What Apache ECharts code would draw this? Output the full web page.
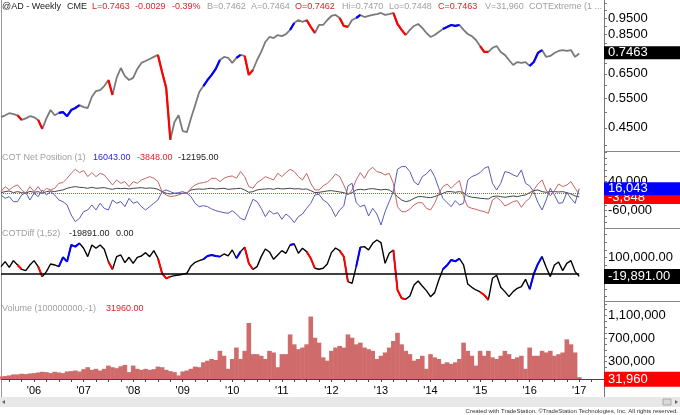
<!DOCTYPE html>
<html><head><meta charset="utf-8">
<script src="https://cdn.jsdelivr.net/npm/echarts@6/dist/echarts.min.js"></script>
<style>html,body{margin:0;padding:0;background:#fff}#c{width:680px;height:415px}</style>
</head><body><div id="c"></div>
<script>
// monthly categories May 2005 .. Jul 2017 (data runs to Jan 2017)
const startYear = 2005, startMonth = 5, nMonths = 147;
const months = [];
for (let i = 0; i < nMonths; i++) { const t = startYear * 12 + startMonth - 1 + i; months.push(Math.floor(t / 12) + '-' + String(t % 12 + 1).padStart(2, '0')); }

const price = [
0.484,0.490,0.497,0.494,0.490,0.475,0.480,0.487,0.484,0.475,
0.447,0.480,0.508,0.490,0.498,0.501,0.487,0.508,0.515,0.525,
0.518,0.515,0.556,0.578,0.582,0.598,0.623,0.563,0.632,0.676,
0.640,0.623,0.632,0.672,0.700,0.709,0.719,0.729,0.739,0.658,
0.590,0.415,0.468,0.490,0.440,0.437,0.480,0.525,0.574,0.598,
0.623,0.645,0.672,0.714,0.729,0.724,0.700,0.724,0.739,0.734,
0.645,0.667,0.714,0.754,0.807,0.835,0.829,0.846,0.840,0.851,
0.876,0.918,0.937,0.925,0.937,0.894,0.858,0.906,0.906,0.937,
0.963,0.970,0.950,0.900,0.894,0.937,0.950,0.970,0.956,0.963,
0.970,0.976,0.983,0.970,0.976,0.983,0.912,0.876,0.846,0.876,
0.900,0.912,0.888,0.858,0.835,0.846,0.864,0.882,0.894,0.906,
0.900,0.906,0.876,0.852,0.840,0.818,0.785,0.754,0.754,0.775,
0.785,0.754,0.739,0.714,0.690,0.704,0.700,0.704,0.686,0.704,
0.749,0.764,0.729,0.734,0.749,0.759,0.764,0.759,0.764,0.729,
0.7463];

const cotBlue = [
-5750,-17250,-11500,-28750,-28750,-5750,2300,-23000,0,-11500,
11500,-5750,5750,-5750,-23000,-28750,-40250,-74750,-97750,-86250,
-63250,-57500,-40250,-57500,-34500,-51750,-57500,-23000,-34500,-28750,
-46000,-17250,-34500,-28750,-46000,-57500,-46000,-34500,-23000,5750,
11500,5750,0,2300,5750,0,-11500,-34500,-46000,-42550,
-46000,-54050,-59800,-63250,-66700,-69000,-59800,-71300,-86250,-92000,
-55200,-20700,-28750,-51750,-80500,-59800,-71300,-66700,-89700,-71300,
-82800,-101200,-80500,-71300,-51750,-34500,-5750,-3450,-23000,-32200,
-51750,-80500,-57500,-43700,25300,34500,-32200,-46000,-40250,-78200,
-51750,-71300,-109250,-63250,-28750,5750,82800,92000,92000,74750,
40250,28750,57500,66700,82800,57500,17250,-17250,-32200,-46000,
-25300,-40250,-34500,46000,57500,63250,71300,86250,92000,34500,
11500,34500,74750,71300,63250,57500,80500,34500,25300,5750,
-32200,-57500,-23000,17250,-5750,-34500,-32200,2300,-17250,-34500,
16043];

const cotRed = [
5750,23000,11500,23000,28750,11500,0,23000,5750,23000,
2300,17250,11500,17250,34500,36800,51750,69000,82800,71300,
78200,57500,71300,57500,69000,63250,46000,28750,46000,34500,
40250,23000,40250,34500,46000,51750,57500,51750,40250,5750,
-5750,-11500,-9200,-5750,0,0,17250,28750,34500,36800,
40250,51750,51750,40250,51750,57500,59800,51750,74750,57500,
23000,17250,36800,46000,57500,51750,46000,69000,57500,71300,
82800,74750,57500,46000,69000,34500,11500,11500,25300,34500,
48300,66700,57500,28750,-5750,11500,46000,71300,51750,78200,
89700,74750,71300,63250,69000,34500,-46000,-63250,-63250,-54050,
-40250,-32200,-32200,-51750,-57500,-34500,0,23000,32200,17250,
32200,43700,-11500,-46000,-51750,-55200,-59800,-63250,-69000,-23000,
-13800,-25300,-43700,-36800,-28750,-25300,-48300,-28750,-17250,11500,
32200,46000,11500,-9200,9200,32200,23000,28750,40250,17250,
-3848];

const cotBlack = [
2300,5750,8050,2300,5750,2300,0,6900,3450,5750,
0,5750,8050,5750,9200,11500,17250,20700,23000,20700,
19550,17250,20700,17250,18400,19550,16100,13800,17250,16100,
17250,14950,17250,18400,19550,17250,18400,17250,13800,5750,
0,-2300,0,-1150,0,1150,11500,13800,14950,13800,
16100,17250,14950,16100,17250,13800,14950,16100,17250,11500,
3450,5750,11500,13800,14950,16100,13800,17250,14950,16100,
17250,14950,16100,13800,14950,9200,2300,3450,5750,8050,
9200,6900,4600,2300,-3450,2300,11500,13800,11500,14950,
16100,13800,11500,13800,11500,2300,-11500,-23000,-28750,-25300,
-17250,-11500,-11500,-13800,-14950,-11500,-5750,0,5750,5750,
3450,5750,2300,-9200,-13800,-14950,-17250,-18400,-19550,-11500,
-9200,-11500,-13800,-11500,-9200,-11500,-8050,-5750,2300,9200,
11500,5750,3450,5750,5750,4600,5750,2300,-2300,-9200,
-12195];

const cotDiff = [
42700,74800,38500,81200,53400,25600,17100,53400,81200,42700,
-21400,10700,59800,53400,42700,102600,74800,181600,171000,192300,
160300,106900,181600,160300,181600,153900,74800,25600,106900,117500,
68400,102600,64100,102600,111100,132500,106900,145300,96200,0,
-32100,-21400,-15000,-10700,-6400,0,47000,70500,81200,89800,
111100,117500,111100,106900,123900,111100,149600,96200,138900,166700,
64100,25600,42700,106900,156000,136800,89800,117500,145300,128200,
181600,188100,128200,160300,138900,96200,32100,25600,32100,59800,
132500,162400,145300,106900,-53400,-64100,42700,166700,171000,149600,
192300,213700,196600,64100,128200,149600,-106900,-160300,-166700,-145300,
-74800,-49200,-81200,-111100,-149600,-123900,-42700,25600,51300,85500,
76900,94000,53400,-68400,-89800,-106900,-119700,-138900,-171000,-32100,
-12800,-89800,-117500,-149600,-117500,-96200,-85500,-38500,-102600,-4300,
59800,106900,38500,-21400,53400,72700,17100,64100,81200,10700,
-19891];

const volume = [
45000,51000,62000,79000,79000,91000,85000,96000,102000,113000,
125000,119000,102000,125000,113000,102000,130000,136000,147000,130000,
170000,204000,159000,176000,147000,176000,232000,204000,187000,221000,
244000,119000,232000,176000,159000,176000,159000,170000,215000,204000,
159000,136000,119000,62000,130000,147000,176000,215000,204000,289000,
317000,346000,329000,487000,402000,176000,346000,544000,346000,487000,
969000,430000,430000,402000,346000,487000,459000,204000,430000,430000,
771000,600000,516000,544000,600000,1080000,714000,629000,374000,317000,
487000,544000,572000,544000,771000,714000,600000,629000,544000,516000,
487000,346000,402000,459000,544000,657000,799000,600000,487000,430000,
317000,346000,402000,176000,430000,374000,346000,261000,289000,261000,
289000,346000,629000,487000,402000,232000,487000,402000,487000,374000,
346000,402000,487000,430000,346000,374000,402000,176000,544000,402000,
402000,487000,459000,487000,402000,430000,459000,686000,600000,459000,
31960];

// months flagged by the COT extreme indicator
const redMonths = ['2005-10','2006-03','2007-08','2008-08','2008-09','2008-10','2010-05','2010-06','2011-08','2011-09','2012-04','2012-05','2013-05','2013-06','2013-07','2015-02','2015-03'];
const blueMonths = ['2006-08','2006-10','2006-12','2009-07','2009-08','2009-09','2009-10','2010-03','2011-04','2012-08','2014-05','2014-06','2014-07','2014-08','2016-02','2016-03','2016-04'];

const priceLabels = [0.45, 0.55, 0.65, 0.85, 0.95];
const priceTicks = [0.40,0.45,0.50,0.55,0.60,0.65,0.70,0.75,0.80,0.85,0.90,0.95,1.00,1.05];
const cotLabels = [40000, -60000];
const diffLabels = [100000];
const volLabels = [300000, 700000, 1100000];

const FONT = 'Arial, "Liberation Sans", sans-serif';
const lastIdx = price.length - 1;
const idxOf = s => months.indexOf(s);
const redSet = new Set(redMonths.map(idxOf)), blueSet = new Set(blueMonths.map(idxOf));
const seg = (arr, set) => arr.map((v, i) => (set.has(i) || set.has(i + 1)) ? v : null);
const range = (a, b, s) => { const r = []; for (let v = a; v <= b + 1e-9; v += s) r.push(+v.toFixed(6)); return r; };
const fmtInt = v => Math.round(v).toLocaleString('en-US');
const fmt2 = v => v.toLocaleString('en-US', {minimumFractionDigits: 2, maximumFractionDigits: 2});

const gridDefs = [[0,151],[151,77],[228,73],[301,78]];
const grid = gridDefs.map(g => ({left: 1, right: 76, top: g[0], height: g[1], containLabel: false}));

const xAxis = [0,1,2,3].map(i => ({
  type: 'category', gridIndex: i, data: months, boundaryGap: false,
  axisLine: {show: i === 3, lineStyle: {color: '#444', width: 1}},
  axisTick: {show: i === 3, length: 3, lineStyle: {color: '#444'},
    interval: (n, v) => ['01','04','07','10'].includes(v.slice(5))},
  axisLabel: {show: i === 3, fontSize: 11, color: '#000', margin: 6, fontFamily: FONT,
    interval: (n, v) => v.endsWith('-01'), formatter: v => "'" + v.slice(2, 4)},
  splitLine: {show: false}
}));

const yBase = {position: 'right', splitLine: {show: false},
  axisLine: {show: true, lineStyle: {color: '#777'}},
  axisTick: {show: true, length: 3, lineStyle: {color: '#777'}}};
const yAxis = [
  Object.assign({}, yBase, {type: 'log', logBase: 10, gridIndex: 0, min: 0.3844, max: 1.0737,
    axisTick: Object.assign({}, yBase.axisTick, {customValues: priceTicks}),
    axisLabel: {customValues: priceLabels, formatter: v => (+v).toFixed(4), fontSize: 13, color: '#000', margin: 4, fontFamily: FONT}}),
  Object.assign({}, yBase, {type: 'value', gridIndex: 1, min: -119600, max: 145800,
    axisTick: Object.assign({}, yBase.axisTick, {customValues: range(-100000, 140000, 20000)}),
    axisLabel: {customValues: cotLabels, formatter: fmtInt, fontSize: 13, color: '#000', margin: 4, fontFamily: FONT}}),
  Object.assign({}, yBase, {type: 'value', gridIndex: 2, min: -177600, max: 290400,
    axisTick: Object.assign({}, yBase.axisTick, {customValues: range(-150000, 250000, 50000)}),
    axisLabel: {customValues: diffLabels, formatter: fmt2, fontSize: 13, color: '#000', margin: 4, fontFamily: FONT}}),
  Object.assign({}, yBase, {type: 'value', gridIndex: 3, min: 0, max: 1349400,
    axisTick: Object.assign({}, yBase.axisTick, {customValues: range(100000, 1300000, 100000)}),
    axisLabel: {customValues: volLabels, formatter: fmtInt, fontSize: 13, color: '#000', margin: 4, fontFamily: FONT}})
];

function boxLine(value, text, bg, lh, offY) {
  return {silent: true, symbol: 'none', animation: false, z: 20,
    lineStyle: {color: 'rgba(0,0,0,0)', width: 1, type: 'solid'},
    emphasis: {disabled: true},
    data: [{yAxis: value}],
    label: {show: true, position: 'end', distance: 0, formatter: text, color: '#fff', backgroundColor: bg,
      fontSize: 13, lineHeight: lh, padding: [0, 2, 0, 4], width: 70, fontFamily: FONT, offset: [0, offY || 0]}};
}
const L = (xi, data, color, width, extra) => Object.assign({type: 'line', xAxisIndex: xi, yAxisIndex: xi, data: data,
  symbol: 'none', showSymbol: false, connectNulls: false, animation: false, clip: false,
  lineStyle: {color: color, width: width}, itemStyle: {color: color}}, extra || {});

const series = [
  L(0, price, '#7a7a7a', 1.8, {markLine: boxLine(price[lastIdx], price[lastIdx].toFixed(4), '#000', 13)}),
  L(0, seg(price, redSet), '#ff0000', 2.2),
  L(0, seg(price, blueSet), '#0000ff', 2.2),
  L(1, cotBlack, '#444', 1, {markLine: {silent: true, symbol: 'none', animation: false, label: {show: false},
    lineStyle: {color: '#3a9a3a', type: 'dotted', width: 1},
    data: [[{coord: [months[0], 0]}, {coord: [months[lastIdx], 0]}]]}}),
  L(1, cotRed, '#c86464', 1, {markLine: boxLine(cotRed[lastIdx], fmtInt(cotRed[lastIdx]), '#ff0000', 13, 3)}),
  L(1, cotBlue, '#5a5ab8', 1, {markLine: boxLine(cotBlue[lastIdx], fmtInt(cotBlue[lastIdx]), '#0000ff', 13)}),
  L(2, cotDiff, '#000', 1.4, {markLine: {silent: true, symbol: 'none', animation: false, label: {show: false},
    lineStyle: {color: '#000', type: 'solid', width: 1.5},
    data: [[{coord: [months[0], 0]}, {coord: [months[lastIdx], 0]}]]}}),
  L(2, seg(cotDiff, redSet), '#ff0000', 2),
  L(2, seg(cotDiff, blueSet), '#0000ff', 2, {markLine: boxLine(cotDiff[lastIdx], fmt2(cotDiff[lastIdx]), '#000', 15)}),
  {type: 'bar', xAxisIndex: 3, yAxisIndex: 3, data: volume, barWidth: 4.6, animation: false,
    itemStyle: {color: '#cf6b6b'},
    markLine: boxLine(volume[lastIdx], fmtInt(volume[lastIdx]), '#ff0000', 15, 2)}
];

const txt = (text, x, y, fill, size) => ({type: 'text', x: x, y: y, silent: true, z: 10,
  style: {text: text, fill: fill, font: (size || 9) + 'px ' + FONT, textVerticalAlign: 'middle', verticalAlign: 'middle'}});
const RED = '#e0202a', GRAY = '#a0a0a0', BLK = '#222', BLU = '#2a2ac8';
const graphic = [
  txt('@AD - Weekly', 2, 7, BLK), txt('CME', 67, 7, BLK), txt('L=0.7463', 92, 7, RED), txt('-0.0029', 135, 7, RED),
  txt('-0.39%', 172, 7, RED), txt('B=0.7462', 207, 7, GRAY), txt('A=0.7464', 251, 7, GRAY), txt('O=0.7462', 295, 7, RED),
  txt('Hi=0.7470', 342, 7, GRAY), txt('Lo=0.7448', 389, 7, GRAY), txt('C=0.7463', 438, 7, RED), txt('V=31,960', 485, 7, GRAY),
  txt('COTExtreme (1 ...', 529, 7, GRAY),
  txt('COT Net Position (1)', 2, 158, GRAY), txt('16043.00', 93, 158, BLU), txt('-3848.00', 137, 158, RED), txt('-12195.00', 178, 158, BLK),
  txt('COTDiff (1,52)', 2, 234, GRAY), txt('-19891.00', 69, 234, BLK), txt('0.00', 116, 234, BLK),
  txt('Volume (100000000,-1)', 2, 309, GRAY), txt('31960.00', 106, 309, RED),
  {type: 'line', silent: true, shape: {x1: 1.5, y1: 0, x2: 1.5, y2: 397}, style: {stroke: '#999', lineWidth: 1}},
  {type: 'line', silent: true, shape: {x1: 604.5, y1: 379, x2: 604.5, y2: 397}, style: {stroke: '#777', lineWidth: 1}},
  {type: 'line', silent: true, shape: {x1: 604, y1: 151.5, x2: 680, y2: 151.5}, style: {stroke: '#888', lineWidth: 1}},
  {type: 'line', silent: true, shape: {x1: 604, y1: 228.5, x2: 680, y2: 228.5}, style: {stroke: '#888', lineWidth: 1}},
  {type: 'line', silent: true, shape: {x1: 604, y1: 301.5, x2: 680, y2: 301.5}, style: {stroke: '#888', lineWidth: 1}},
  {type: 'rect', silent: true, shape: {x: 0, y: 397, width: 680, height: 10}, style: {fill: '#e8e8e8'}},
  {type: 'rect', silent: true, shape: {x: 663, y: 399, width: 8, height: 6}, style: {fill: '#d8d8d8', stroke: '#aaa', lineWidth: 1}},
  {type: 'polygon', silent: true, shape: {points: [[675, 400], [678, 402], [675, 404]]}, style: {fill: '#666'}},
  {type: 'polygon', silent: true, shape: {points: [[5, 400], [2, 402], [5, 404]]}, style: {fill: '#666'}},
  {type: 'text', silent: true, x: 678, y: 411, style: {text: 'Created with TradeStation. \u00A9TradeStation Technologies, Inc. All rights reserved.',
    fill: '#333', font: '6px ' + FONT, textAlign: 'right', align: 'right', textVerticalAlign: 'middle', verticalAlign: 'middle'}}
];

const chart = echarts.init(document.getElementById('c'), null, {renderer: 'canvas'});
chart.setOption({animation: false, backgroundColor: '#fff', textStyle: {fontFamily: FONT},
  grid: grid, xAxis: xAxis, yAxis: yAxis, series: series, graphic: graphic});
</script></body></html>
